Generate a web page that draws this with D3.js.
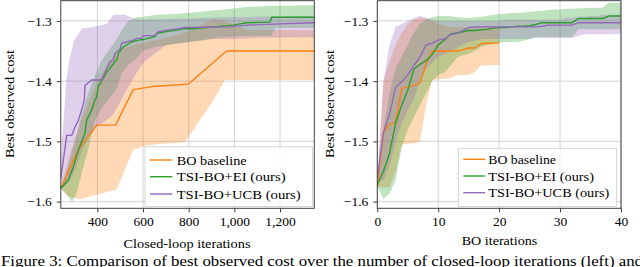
<!DOCTYPE html>
<html><head><meta charset="utf-8">
<script src="https://cdn.jsdelivr.net/npm/d3@7"></script>
<style>
html,body{margin:0;padding:0;background:#fff;}
svg{display:block;}
text{font-family:"Liberation Serif","DejaVu Serif",serif;fill:#000;}
</style></head>
<body>
<svg id="chart" width="640" height="267"></svg>
<script>
// ---------- DATA ----------
const seriesNames = ["BO baseline", "TSI-BO+EI (ours)", "TSI-BO+UCB (ours)"];
const yTicks = [-1.6, -1.5, -1.4, -1.3];
const leftXTicks = [400, 600, 800, 1000, 1200];
const rightXTicks = [0, 10, 20, 30, 40];

// Left panel: closed-loop iterations
const leftBOx    = [240, 273, 317, 397, 480, 557, 638, 798, 966, 1350];
const leftBOmean = [-1.578, -1.550, -1.514, -1.473, -1.473, -1.414, -1.409, -1.405, -1.350, -1.350];
const leftBOBandX = [240, 272, 324, 400, 485, 557, 623, 784, 908, 959, 1050, 1150, 1350];
const leftBOlo    = [-1.578, -1.591, -1.596, -1.588, -1.580, -1.514, -1.506, -1.501, -1.432, -1.398, -1.398, -1.398, -1.398];
const leftBOhi    = [-1.577, -1.530, -1.470, -1.400, -1.350, -1.340, -1.335, -1.320, -1.297, -1.300, -1.315, -1.315, -1.315];

const leftEIx    = [240, 273, 295, 317, 346, 353, 375, 390, 397, 404, 441, 455, 470, 485, 492, 514, 529, 550, 579, 601, 652, 660, 696, 754, 776, 820, 995, 1054, 1156, 1163, 1350];
const leftEImean = [-1.578, -1.564, -1.542, -1.514, -1.487, -1.465, -1.448, -1.431, -1.426, -1.409, -1.385, -1.379, -1.371, -1.365, -1.354, -1.343, -1.340, -1.335, -1.332, -1.331, -1.326, -1.321, -1.318, -1.315, -1.313, -1.313, -1.307, -1.303, -1.302, -1.294, -1.294];
const leftEIBandX = [240, 270, 290, 310, 330, 360, 390, 420, 448, 485, 507, 536, 572, 601, 660, 762, 850, 937, 1050, 1160, 1180, 1350];
const leftEIlo    = [-1.578, -1.590, -1.600, -1.585, -1.555, -1.514, -1.465, -1.445, -1.431, -1.412, -1.387, -1.373, -1.362, -1.349, -1.343, -1.337, -1.333, -1.327, -1.325, -1.325, -1.312, -1.312];
const leftEIhi    = [-1.578, -1.545, -1.515, -1.490, -1.455, -1.420, -1.390, -1.365, -1.350, -1.330, -1.315, -1.300, -1.294, -1.293, -1.290, -1.288, -1.285, -1.282, -1.277, -1.275, -1.275, -1.274];

const leftUCBx    = [240, 266, 288, 302, 317, 331, 343, 346, 375, 419, 434, 455, 470, 477, 499, 507, 529, 557, 572, 594, 601, 652, 667, 711, 754, 784, 981, 1054, 1200, 1350];
const leftUCBmean = [-1.561, -1.490, -1.490, -1.476, -1.465, -1.448, -1.431, -1.407, -1.398, -1.398, -1.385, -1.368, -1.365, -1.354, -1.347, -1.337, -1.335, -1.332, -1.329, -1.329, -1.325, -1.324, -1.318, -1.315, -1.313, -1.311, -1.310, -1.307, -1.305, -1.303];
const leftUCBBandX = [240, 245, 255, 264, 280, 300, 333, 380, 440, 470, 521, 557, 600, 700, 800, 900, 1000, 1100, 1350];
const leftUCBhi    = [-1.561, -1.500, -1.450, -1.398, -1.360, -1.330, -1.313, -1.310, -1.305, -1.290, -1.290, -1.296, -1.298, -1.297, -1.296, -1.295, -1.294, -1.293, -1.292];
const leftUCBlo    = [-1.561, -1.575, -1.575, -1.572, -1.565, -1.550, -1.515, -1.480, -1.465, -1.455, -1.420, -1.395, -1.370, -1.340, -1.335, -1.330, -1.330, -1.328, -1.327];

// Right panel: BO iterations (index 0..N)
const rBOmean = [-1.576, -1.485, -1.472, -1.468, -1.412, -1.410, -1.407, -1.403, -1.371, -1.350, -1.350, -1.350, -1.350, -1.350, -1.348, -1.345, -1.345, -1.338, -1.337, -1.337, -1.336];
const rBOlo   = [-1.576, -1.576, -1.576, -1.550, -1.505, -1.504, -1.503, -1.500, -1.440, -1.398, -1.397, -1.396, -1.395, -1.390, -1.390, -1.390, -1.385, -1.374, -1.374, -1.373, -1.373];
const rBOhi   = [-1.576, -1.400, -1.368, -1.340, -1.320, -1.305, -1.298, -1.295, -1.296, -1.300, -1.305, -1.308, -1.310, -1.310, -1.310, -1.310, -1.310, -1.310, -1.310, -1.310, -1.310];

const rEImean = [-1.572, -1.550, -1.520, -1.470, -1.440, -1.415, -1.380, -1.372, -1.366, -1.356, -1.340, -1.332, -1.322, -1.320, -1.318, -1.316, -1.316, -1.315, -1.314, -1.312, -1.311, -1.311, -1.310, -1.309, -1.309, -1.308, -1.306, -1.303, -1.303, -1.303, -1.303, -1.303, -1.303, -1.296, -1.296, -1.296, -1.296, -1.296, -1.292, -1.292, -1.292];
const rEIlo   = [-1.575, -1.595, -1.587, -1.565, -1.510, -1.480, -1.460, -1.440, -1.420, -1.400, -1.390, -1.386, -1.375, -1.362, -1.357, -1.355, -1.350, -1.343, -1.340, -1.338, -1.336, -1.335, -1.335, -1.335, -1.333, -1.330, -1.327, -1.327, -1.327, -1.327, -1.327, -1.327, -1.327, -1.314, -1.314, -1.314, -1.314, -1.314, -1.314, -1.314, -1.314];
const rEIhi   = [-1.570, -1.480, -1.420, -1.380, -1.360, -1.340, -1.320, -1.305, -1.298, -1.294, -1.292, -1.292, -1.292, -1.294, -1.295, -1.295, -1.294, -1.293, -1.292, -1.290, -1.289, -1.288, -1.287, -1.287, -1.286, -1.285, -1.284, -1.283, -1.282, -1.281, -1.281, -1.280, -1.280, -1.279, -1.279, -1.278, -1.278, -1.278, -1.270, -1.270, -1.270];

const rUCBmean = [-1.562, -1.486, -1.455, -1.410, -1.401, -1.390, -1.374, -1.360, -1.340, -1.337, -1.332, -1.330, -1.323, -1.321, -1.316, -1.311, -1.310, -1.310, -1.310, -1.310, -1.310, -1.310, -1.310, -1.310, -1.310, -1.310, -1.310, -1.309, -1.307, -1.307, -1.307, -1.307, -1.307, -1.303, -1.303, -1.303, -1.303, -1.303, -1.303, -1.303, -1.303];
const rUCBhi   = [-1.562, -1.400, -1.340, -1.310, -1.305, -1.300, -1.295, -1.292, -1.295, -1.298, -1.300, -1.300, -1.300, -1.300, -1.300, -1.300, -1.300, -1.300, -1.300, -1.300, -1.300, -1.298, -1.298, -1.298, -1.298, -1.298, -1.298, -1.298, -1.298, -1.298, -1.298, -1.295, -1.295, -1.293, -1.293, -1.292, -1.292, -1.290, -1.290, -1.290, -1.290];
const rUCBlo   = [-1.565, -1.565, -1.540, -1.500, -1.470, -1.450, -1.430, -1.400, -1.380, -1.370, -1.360, -1.355, -1.350, -1.345, -1.340, -1.335, -1.333, -1.330, -1.330, -1.330, -1.330, -1.330, -1.330, -1.330, -1.330, -1.330, -1.328, -1.328, -1.328, -1.328, -1.328, -1.328, -1.328, -1.325, -1.322, -1.322, -1.322, -1.322, -1.322, -1.322, -1.322];

// ---------- DRAWING ----------
const colors = ["#ff7f0e", "#2ca02c", "#9467bd"];
const svg = d3.select("#chart");
const idx = arr => arr.map((_, i) => i);

function panel(cfg) {
  const g = svg.append("g");
  const x = d3.scaleLinear().domain(cfg.xDomain).range([cfg.left, cfg.right]);
  const y = d3.scaleLinear().domain([-1.611, -1.2665]).range([208.3, 0.7]);
  const clipId = "clip" + cfg.id;
  svg.append("clipPath").attr("id", clipId).append("rect")
    .attr("x", cfg.left).attr("y", 0.7).attr("width", cfg.right - cfg.left).attr("height", 207.6);

  // grid
  g.selectAll(".gx").data(cfg.xTicks).enter().append("line")
    .attr("x1", d => x(d)).attr("x2", d => x(d)).attr("y1", 0.7).attr("y2", 208.3)
    .attr("stroke", "#c8c8c8").attr("stroke-width", 0.8);
  g.selectAll(".gy").data(yTicks).enter().append("line")
    .attr("x1", cfg.left).attr("x2", cfg.right).attr("y1", d => y(d)).attr("y2", d => y(d))
    .attr("stroke", "#c8c8c8").attr("stroke-width", 0.8);

  const plot = g.append("g").attr("clip-path", `url(#${clipId})`);
  const area = d3.area().x(d => x(d[0])).y0(d => y(d[1])).y1(d => y(d[2]));
  const line = d3.line().x(d => x(d[0])).y(d => y(d[1]));

  cfg.bands.forEach((b, i) => {
    const pts = b.x.map((xv, k) => [xv, b.lo[k], b.hi[k]]);
    plot.append("path").attr("d", area(pts)).attr("fill", colors[i]).attr("fill-opacity", 0.3).attr("stroke", "none");
  });
  cfg.lines.forEach((l, i) => {
    const pts = l.x.map((xv, k) => [xv, l.y[k]]);
    plot.append("path").attr("d", line(pts)).attr("fill", "none").attr("stroke", colors[i])
      .attr("stroke-width", 1.4).attr("stroke-linejoin", "round");
  });

  // frame
  g.append("rect").attr("x", cfg.left).attr("y", 0.7).attr("width", cfg.right - cfg.left).attr("height", 207.6)
    .attr("fill", "none").attr("stroke", "#404040").attr("stroke-width", 1);

  // axes
  const xAxis = d3.axisBottom(x).tickValues(cfg.xTicks).tickSize(4).tickPadding(4)
    .tickFormat(d => d3.format(",")(d));
  const ax = g.append("g").attr("transform", "translate(0,208.3)").call(xAxis);
  ax.select(".domain").remove();
  ax.selectAll("line").attr("stroke", "#404040");
  ax.selectAll("text").attr("font-size", "13.5px").attr("font-family", "Liberation Serif").attr("dy", "0.72em").attr("y", 8).attr("fill", "#000");

  const yAxis = d3.axisLeft(y).tickValues(yTicks).tickSize(4).tickPadding(5)
    .tickFormat(d => "\u2212" + d3.format(".1f")(-d));
  const ay = g.append("g").attr("transform", `translate(${cfg.left},0)`).call(yAxis);
  ay.select(".domain").remove();
  ay.selectAll("line").attr("stroke", "#404040");
  ay.selectAll("text").attr("font-size", "13.5px").attr("font-family", "Liberation Serif").attr("fill", "#000");

  // axis labels
  g.append("text").attr("x", cfg.xLabelX).attr("y", cfg.xLabelY).attr("text-anchor", "middle")
    .attr("font-size", "13.5px").attr("textLength", cfg.xLabelW).attr("lengthAdjust", "spacingAndGlyphs")
    .text(cfg.xLabel);
  g.append("text").attr("transform", `translate(${cfg.yLabelX},104) rotate(-90)`).attr("text-anchor", "middle")
    .attr("font-size", "13.5px").attr("textLength", 108).attr("lengthAdjust", "spacingAndGlyphs")
    .text("Best observed cost");

  // legend
  const L = cfg.legend;
  g.append("rect").attr("x", L.x0).attr("y", L.y0).attr("width", L.x1 - L.x0).attr("height", L.y1 - L.y0)
    .attr("fill", "#fff").attr("fill-opacity", 0.8).attr("stroke", "#cccccc").attr("stroke-width", 0.8);
  seriesNames.forEach((name, i) => {
    const ly = L.rows[i];
    g.append("line").attr("x1", L.lx0).attr("x2", L.lx1).attr("y1", ly).attr("y2", ly)
      .attr("stroke", colors[i]).attr("stroke-width", 1.4);
    g.append("text").attr("x", L.tx).attr("y", ly + 4.5).attr("font-size", "13.5px")
      .attr("textLength", L.tw[i]).attr("lengthAdjust", "spacingAndGlyphs").text(name);
  });
}

panel({
  id: "L", left: 60.8, right: 314.3, xDomain: [240, 1350], xTicks: leftXTicks,
  xLabel: "Closed-loop iterations", xLabelX: 187, xLabelY: 247.5, xLabelW: 127, yLabelX: 14,
  bands: [
    {x: leftBOBandX, lo: leftBOlo, hi: leftBOhi},
    {x: leftEIBandX, lo: leftEIlo, hi: leftEIhi},
    {x: leftUCBBandX, lo: leftUCBlo, hi: leftUCBhi}
  ],
  lines: [
    {x: leftBOx, y: leftBOmean},
    {x: leftEIx, y: leftEImean},
    {x: leftUCBx, y: leftUCBmean}
  ],
  legend: {x0: 145, y0: 146.7, x1: 312.5, y1: 206.5, rows: [160, 176.7, 194], lx0: 150, lx1: 172.3, tx: 176.7, tw: [70, 109, 124]}
});

panel({
  id: "R", left: 377.3, right: 621, xDomain: [0, 40], xTicks: rightXTicks,
  xLabel: "BO iterations", xLabelX: 499.5, xLabelY: 244.5, xLabelW: 75.6, yLabelX: 334,
  bands: [
    {x: idx(rBOmean), lo: rBOlo, hi: rBOhi},
    {x: idx(rEImean), lo: rEIlo, hi: rEIhi},
    {x: idx(rUCBmean), lo: rUCBlo, hi: rUCBhi}
  ],
  lines: [
    {x: idx(rBOmean), y: rBOmean},
    {x: idx(rEImean), y: rEImean},
    {x: idx(rUCBmean), y: rUCBmean}
  ],
  legend: {x0: 458.3, y0: 148.3, x1: 616.7, y1: 206.5, rows: [159.3, 176, 192.7], lx0: 463.3, lx1: 485, tx: 488.3, tw: [67.7, 105.7, 121]}
});

// caption (cut off at the right edge, as in the source)
svg.append("text").attr("x", 1).attr("y", 265.5).attr("font-size", "15px")
  .attr("textLength", 642).attr("lengthAdjust", "spacingAndGlyphs")
  .text("Figure 3: Comparison of best observed cost over the number of closed-loop iterations (left) and");
</script>
</body></html>
